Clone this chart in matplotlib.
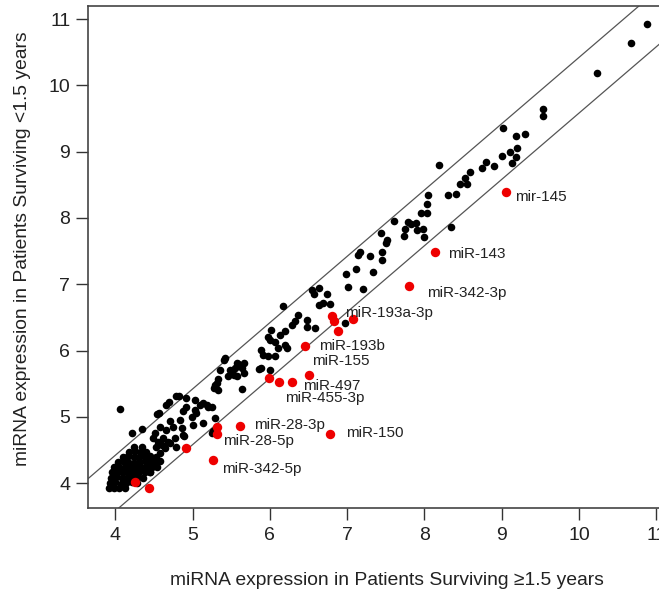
import matplotlib
matplotlib.use("Agg")
import matplotlib.pyplot as plt

plt.rcParams['font.family'] = ['Liberation Sans', 'DejaVu Sans']

# black points: miRNAs not differing between groups
black_x = [10.88, 10.67, 10.24, 9.54, 9.54, 9.30, 9.02, 9.18, 9.20, 9.11, 9.18, 9.13, 9.00,
           8.90, 8.80, 8.75, 8.59, 8.52, 8.46, 8.55, 8.19, 8.31, 8.41, 8.05, 8.03, 8.03, 7.96,
           7.61, 7.79, 7.83, 7.89, 7.75, 7.98, 7.91, 7.73, 7.99, 8.35, 7.44, 7.51, 7.50, 7.17,
           7.14, 7.30, 7.45, 7.45, 6.98, 7.11, 7.34, 7.01, 7.20,
           6.54, 6.64, 6.57, 6.74, 6.17, 6.63, 6.69, 6.78, 6.97, 6.58, 6.37, 6.32, 6.28, 6.48,
           6.48, 6.02, 6.20, 6.13, 6.00, 6.07, 6.20, 5.97, 6.11, 6.22, 5.91, 5.98, 5.88, 6.07,
           5.89, 5.86, 6.00, 5.42, 5.59, 5.55, 5.64, 5.48, 5.35, 5.66, 5.57, 5.46, 5.33, 5.29,
           5.28, 5.33, 5.64, 5.53, 5.57, 5.66, 5.40,
           4.82, 4.92, 4.06, 4.21, 4.35, 4.56, 4.69, 4.79, 5.03, 4.92, 4.88, 5.03, 5.10, 5.18,
           5.25, 5.05, 4.99, 4.84, 4.71, 4.75, 4.66, 4.58, 4.51, 4.49, 4.62, 4.71, 4.79, 4.88,
           4.86, 5.01, 5.14, 4.77, 4.64, 4.58, 4.45, 4.45, 5.25, 5.31, 4.54, 4.66, 5.14, 5.20,
           5.29, 5.27, 4.47, 4.89, 4.55, 4.60, 4.68, 4.52,
           3.92, 3.98, 4.05, 4.12,
           3.93, 4.00, 4.07, 4.14, 4.21, 4.28,
           3.94, 4.01, 4.08, 4.15, 4.22, 4.29, 4.36,
           3.96, 4.03, 4.10, 4.17, 4.24, 4.31, 4.38, 4.45,
           3.98, 4.05, 4.12, 4.19, 4.26, 4.33, 4.40, 4.47, 4.54,
           4.03, 4.10, 4.17, 4.24, 4.31, 4.38, 4.45, 4.52, 4.58,
           4.10, 4.17, 4.24, 4.31, 4.38, 4.45, 4.52,
           4.18, 4.25, 4.33, 4.40,
           4.24, 4.34]
black_y = [10.92, 10.64, 10.18, 9.65, 9.54, 9.27, 9.35, 9.23, 9.05, 9.00, 8.92, 8.83, 8.93,
           8.79, 8.84, 8.75, 8.70, 8.60, 8.51, 8.51, 8.80, 8.34, 8.36, 8.34, 8.21, 8.08, 8.07,
           7.96, 7.94, 7.91, 7.93, 7.84, 7.84, 7.82, 7.73, 7.71, 7.87, 7.77, 7.67, 7.62, 7.49,
           7.44, 7.42, 7.48, 7.36, 7.16, 7.23, 7.18, 6.96, 6.93,
           6.92, 6.94, 6.85, 6.85, 6.67, 6.69, 6.72, 6.70, 6.41, 6.34, 6.54, 6.44, 6.39, 6.35,
           6.46, 6.31, 6.29, 6.24, 6.16, 6.13, 6.08, 6.21, 6.04, 6.04, 5.93, 5.91, 6.01, 5.92,
           5.73, 5.72, 5.71, 5.88, 5.80, 5.73, 5.73, 5.71, 5.71, 5.66, 5.62, 5.62, 5.57, 5.48,
           5.43, 5.41, 5.42, 5.63, 5.81, 5.81, 5.85,
           5.31, 5.28, 5.12, 4.76, 4.81, 5.06, 5.22, 5.31, 5.26, 5.15, 5.08, 5.11, 5.18, 5.18,
           5.15, 5.06, 5.00, 4.95, 4.93, 4.85, 4.80, 4.85, 4.75, 4.68, 4.68, 4.60, 4.55, 4.73,
           4.83, 4.88, 4.90, 4.68, 4.53, 4.45, 4.38, 4.17, 4.75, 5.51, 5.04, 5.18, 5.21, 5.15,
           4.98, 4.78, 4.30, 4.71, 4.62, 4.58, 4.62, 4.55,
           3.92, 3.93, 3.92, 3.93,
           4.00, 4.01, 3.99, 4.00, 4.01, 4.00,
           4.08, 4.09, 4.08, 4.07, 4.08, 4.09, 4.08,
           4.16, 4.17, 4.16, 4.15, 4.16, 4.17, 4.16, 4.16,
           4.24, 4.25, 4.24, 4.23, 4.24, 4.25, 4.24, 4.24, 4.25,
           4.32, 4.33, 4.32, 4.31, 4.32, 4.33, 4.32, 4.32, 4.33,
           4.40, 4.41, 4.40, 4.39, 4.40, 4.41, 4.40,
           4.47, 4.48, 4.47, 4.47,
           4.54, 4.54]

# red points: miRNAs lower in short survivors
red_x = [9.06, 8.14, 7.80, 6.81, 6.83, 6.88, 7.08, 6.45, 6.50, 5.99, 6.12, 6.28,
         5.61, 6.78, 5.31, 5.32, 5.27, 4.91, 4.25, 4.44]
red_y = [8.39, 7.49, 6.98, 6.52, 6.45, 6.30, 6.48, 6.07, 5.63, 5.59, 5.53, 5.53,
         4.86, 4.74, 4.85, 4.74, 4.35, 4.53, 4.02, 3.92]

labels = ['mir-145', 'miR-143', 'miR-342-3p', 'miR-193a-3p', 'miR-193b', 'miR-155',
          'miR-497', 'miR-455-3p', 'miR-28-3p', 'miR-150', 'miR-28-5p', 'miR-342-5p']
label_x = [9.17, 8.30, 8.03, 6.97, 6.64, 6.55, 6.43, 6.20, 5.79, 6.99, 5.40, 5.38]
label_y = [8.32, 7.46, 6.87, 6.57, 6.07, 5.84, 5.47, 5.28, 4.88, 4.76, 4.63, 4.21]

band = 0.42
ticks = [4, 5, 6, 7, 8, 9, 10, 11]

fig = plt.figure(figsize=(6.59, 5.97), dpi=100)
ax = fig.add_axes([0.134, 0.1486, 0.884, 0.8413])

ax.axline((0, band), slope=1, color='#555555', lw=0.9, zorder=1)
ax.axline((0, -band), slope=1, color='#555555', lw=0.9, zorder=1)

ax.scatter(black_x, black_y, s=30, c='black', linewidths=0, zorder=2)
ax.scatter(red_x, red_y, s=46, c='#ee0000', linewidths=0, zorder=3)

for t, lx, ly in zip(labels, label_x, label_y):
    ax.text(lx, ly, t, fontsize=11, ha='left', va='center', color='#222222', zorder=4)

ax.set_xlim(3.65, 11.19)
ax.set_ylim(3.62, 11.196)
ax.set_xticks(ticks)
ax.set_yticks(ticks)
ax.tick_params(direction='out', length=8.5, width=1, colors='#333333', labelsize=14,
               labelcolor='#222222')
ax.tick_params(axis='x', pad=5)
ax.tick_params(axis='y', pad=4.5)
for sp in ax.spines.values():
    sp.set_color('#444444')
    sp.set_linewidth(1.2)

ax.set_xlabel('miRNA expression in Patients Surviving \u22651.5 years', fontsize=13.9, color='#222222')
ax.set_ylabel('miRNA expression in Patients Surviving <1.5 years', fontsize=13.9, color='#222222')
ax.xaxis.set_label_coords(0.513, -0.127)
ax.yaxis.set_label_coords(-0.098, 0.517)

fig.savefig('out.png', dpi=100)
